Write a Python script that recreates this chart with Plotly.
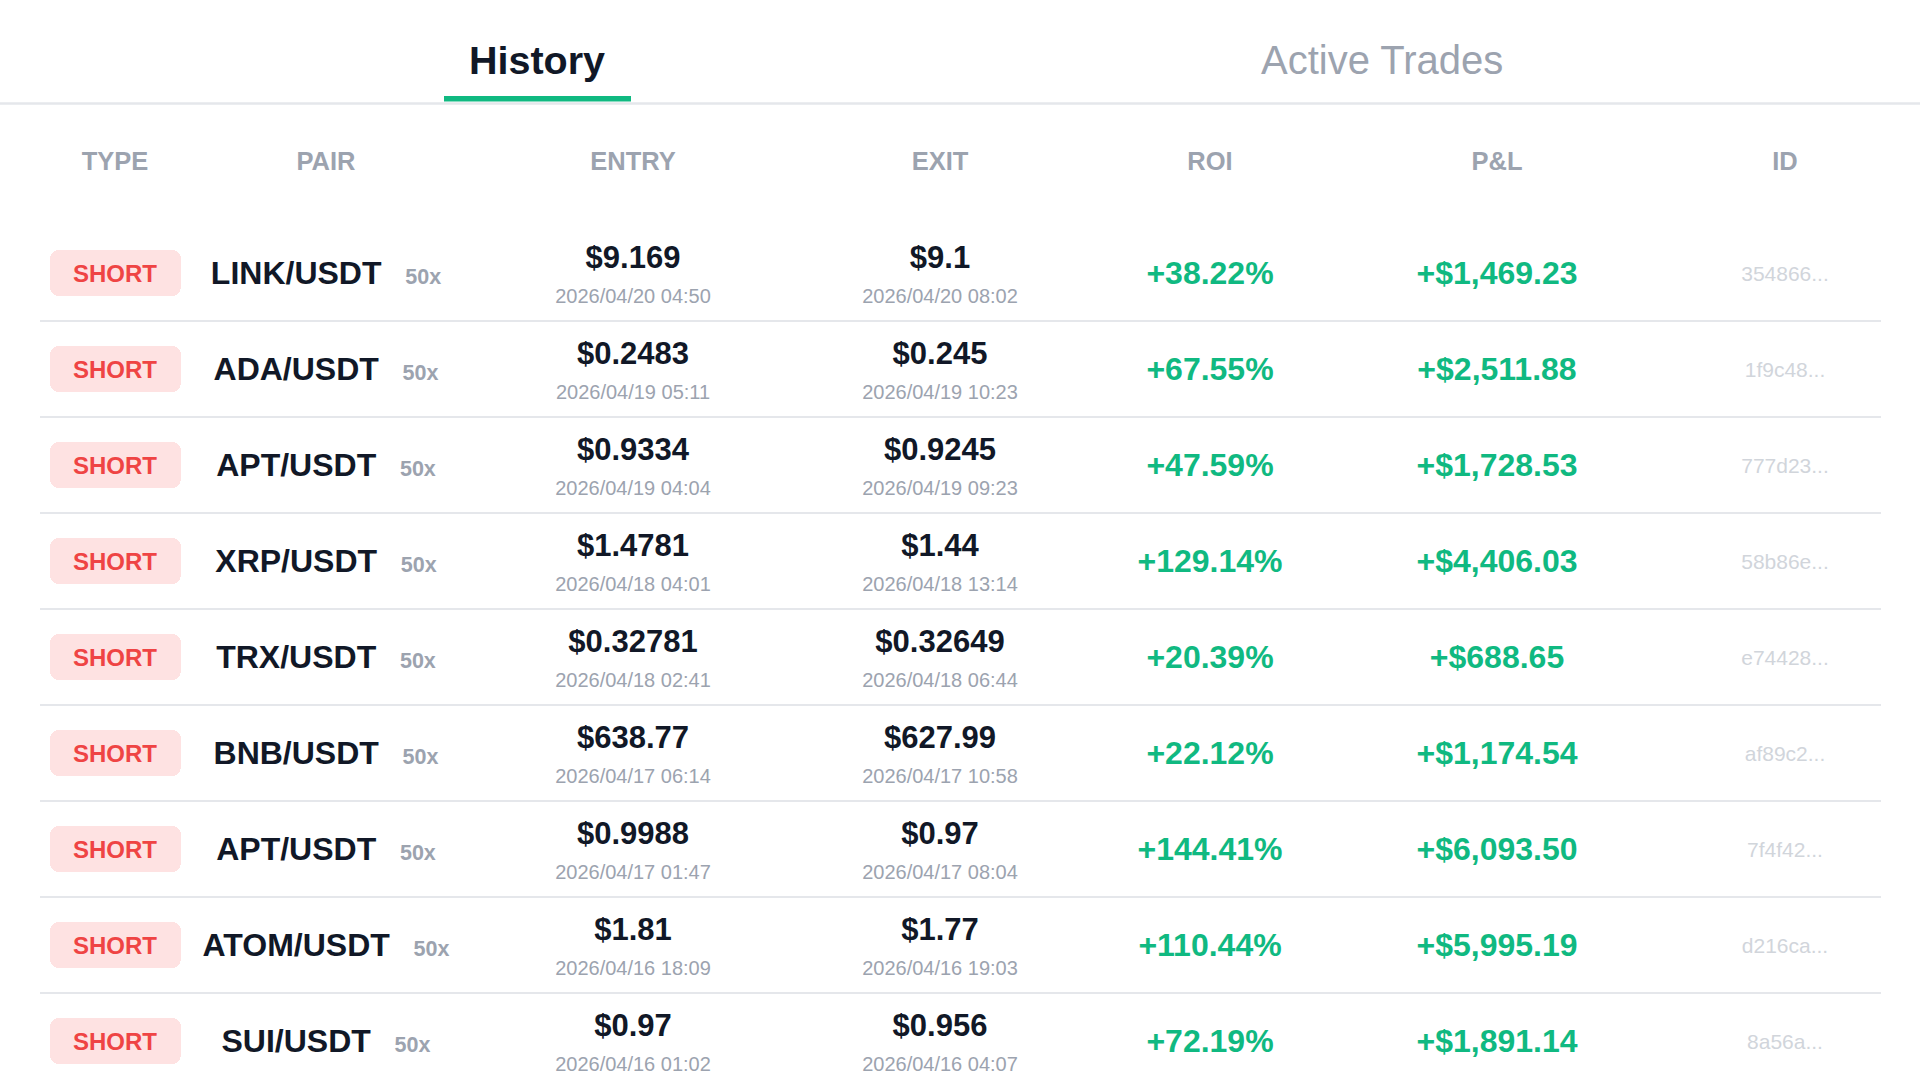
import plotly.graph_objects as go

# table data
pairs = ["LINK/USDT", "ADA/USDT", "APT/USDT", "XRP/USDT", "TRX/USDT",
         "BNB/USDT", "APT/USDT", "ATOM/USDT", "SUI/USDT"]
sides = ["SHORT"] * 9
leverage = ["50x"] * 9
entry_price = ["$9.169", "$0.2483", "$0.9334", "$1.4781", "$0.32781",
               "$638.77", "$0.9988", "$1.81", "$0.97"]
entry_time = ["2026/04/20 04:50", "2026/04/19 05:11", "2026/04/19 04:04",
              "2026/04/18 04:01", "2026/04/18 02:41", "2026/04/17 06:14",
              "2026/04/17 01:47", "2026/04/16 18:09", "2026/04/16 01:02"]
exit_price = ["$9.1", "$0.245", "$0.9245", "$1.44", "$0.32649",
              "$627.99", "$0.97", "$1.77", "$0.956"]
exit_time = ["2026/04/20 08:02", "2026/04/19 10:23", "2026/04/19 09:23",
             "2026/04/18 13:14", "2026/04/18 06:44", "2026/04/17 10:58",
             "2026/04/17 08:04", "2026/04/16 19:03", "2026/04/16 04:07"]
roi = [38.22, 67.55, 47.59, 129.14, 20.39, 22.12, 144.41, 110.44, 72.19]
pnl = [1469.23, 2511.88, 1728.53, 4406.03, 688.65, 1174.54, 6093.50, 5995.19, 1891.14]
trade_ids = ["354866...", "1f9c48...", "777d23...", "58b86e...", "e74428...",
             "af89c2...", "7f4f42...", "d216ca...", "8a56a..."]
headers = ["TYPE", "PAIR", "ENTRY", "EXIT", "ROI", "P&L", "ID"]
tabs = ["History", "Active Trades"]

FONT = "Liberation Sans, Arial, sans-serif"
DARK = "#111827"
GRAY = "#9ca3af"
LIGHT = "#d1d5db"
GREEN = "#10b981"
RED = "#ef4444"
LINE = "#e5e7eb"

W, H = 1920, 1080
ROW_H = 96
FIRST_ROW = 273  # pixel centre of the first row
col_x = [115, 326, 633, 940, 1210, 1497, 1785]

rows = list(range(len(pairs)))
y_top = -FIRST_ROW / ROW_H
y_bot = (H - FIRST_ROW) / ROW_H
dy = 2.5 / ROW_H  # plotly centres text a bit high
header_y = (160 - FIRST_ROW) / ROW_H + 3.5 / ROW_H
price_off = -16 / ROW_H + 3.5 / ROW_H
date_off = 22 / ROW_H + dy

fig = go.Figure()

# SHORT badges as rounded horizontal bars
fig.add_trace(go.Bar(
    y=rows, x=[131] * len(rows), base=50, orientation="h", width=46 / ROW_H,
    marker=dict(color="#fee2e2", cornerradius=9, line=dict(width=0)),
    hoverinfo="skip", showlegend=False,
))


def text_trace(x, y, text, size, color, weight="normal"):
    fig.add_trace(go.Scatter(
        x=x, y=y, text=text, mode="text", textposition="middle center",
        textfont=dict(family=FONT, size=size, color=color, weight=weight),
        hoverinfo="skip", showlegend=False, cliponaxis=False,
    ))


n = len(rows)
mid = [r + dy for r in rows]
text_trace([col_x[0]] * n, mid, sides, 24, RED, "bold")
pair_txt = [f"{p}\u00a0\u00a0<span style='font-size:21.5px;color:{GRAY}'>\u00a0{l}</span>"
            for p, l in zip(pairs, leverage)]
text_trace([col_x[1]] * n, mid, pair_txt, 32, DARK, "bold")
text_trace([col_x[2]] * n, [r + price_off for r in rows], entry_price, 31, DARK, "bold")
text_trace([col_x[2]] * n, [r + date_off for r in rows], entry_time, 20, GRAY)
text_trace([col_x[3]] * n, [r + price_off for r in rows], exit_price, 31, DARK, "bold")
text_trace([col_x[3]] * n, [r + date_off for r in rows], exit_time, 20, GRAY)
text_trace([col_x[4]] * n, mid, [f"+{v:.2f}%" for v in roi], 32, GREEN, "bold")
text_trace([col_x[5]] * n, mid, [f"+${v:,.2f}" for v in pnl], 32, GREEN, "bold")
text_trace([col_x[6]] * n, mid, trade_ids, 21, LIGHT)

# column headers
text_trace(col_x, [header_y] * len(headers), headers, 25.5, GRAY, "bold")

# row separators
for r in rows[:-1]:
    fig.add_shape(type="line", x0=40, x1=1881, y0=r + 0.5, y1=r + 0.5,
                  xref="x", yref="y", line=dict(color=LINE, width=2))

# tab bar
tab_y = 1 - 60 / H
fig.add_annotation(x=537, y=tab_y, xref="x", yref="paper", text=f"<b>{tabs[0]}</b>",
                   xanchor="center", yanchor="middle", showarrow=False,
                   font=dict(family=FONT, size=39.5, color=DARK))
fig.add_annotation(x=1382, y=tab_y, xref="x", yref="paper", text=tabs[1],
                   xanchor="center", yanchor="middle", showarrow=False,
                   font=dict(family=FONT, size=40, color=GRAY))
fig.add_shape(type="line", x0=0, x1=W, y0=1 - 103.5 / H, y1=1 - 103.5 / H,
              xref="x", yref="paper", line=dict(color=LINE, width=2.5))
fig.add_shape(type="rect", x0=444, x1=631, y0=1 - 101.5 / H, y1=1 - 96 / H,
              xref="x", yref="paper", fillcolor=GREEN, line=dict(width=0))

fig.update_layout(
    width=W, height=H, margin=dict(l=0, r=0, t=0, b=0),
    paper_bgcolor="white", plot_bgcolor="white",
    xaxis=dict(range=[0, W], visible=False, fixedrange=True),
    yaxis=dict(range=[y_bot, y_top], visible=False, fixedrange=True),
    bargap=0,
)

fig.write_html("out.html", config={"displayModeBar": False},
               post_script="document.body.style.margin='0';")
